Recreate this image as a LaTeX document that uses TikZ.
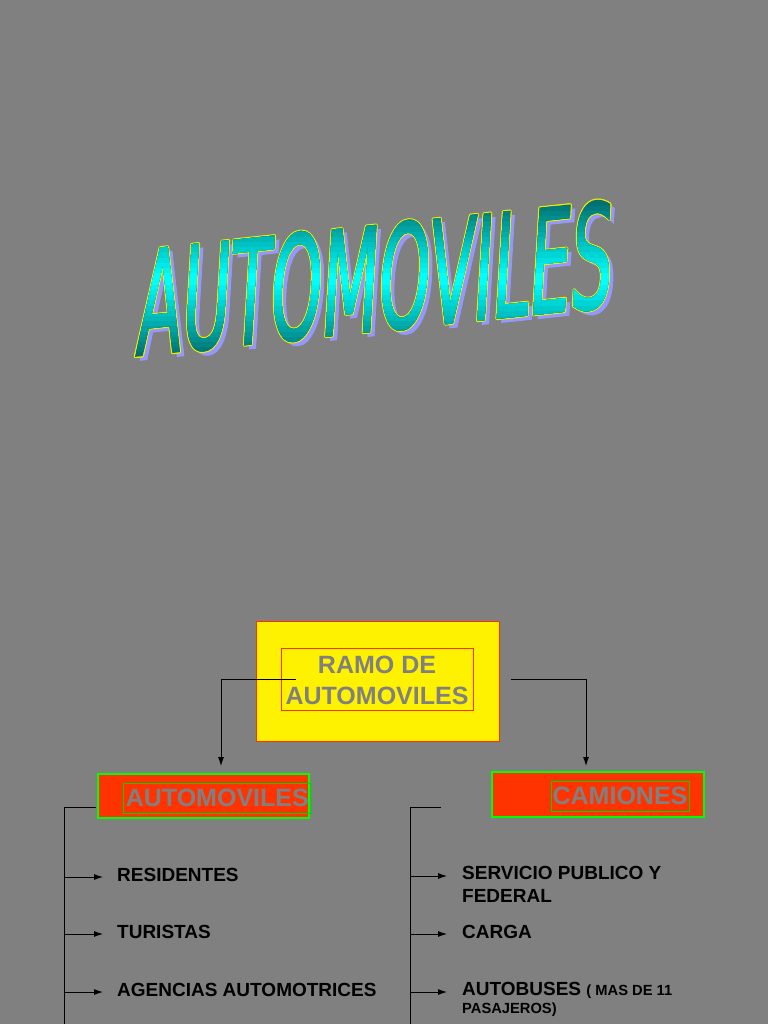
\documentclass[tikz,border=0pt]{standalone}
\usepackage{fontspec}
\setmainfont{Liberation Sans}
\newfontfamily\titlefont[FakeBold=1.2]{DejaVu Sans}
\usetikzlibrary{arrows.meta}
\definecolor{bg}{RGB}{128,128,128}
\definecolor{boxred}{RGB}{255,51,0}
\definecolor{boxgreen}{RGB}{0,255,0}
\definecolor{ingreen}{RGB}{0,215,0}
\definecolor{ramored}{RGB}{255,51,0}
\definecolor{txtgray}{RGB}{128,128,128}
\definecolor{tealdark}{RGB}{0,112,112}
\definecolor{cyanbright}{RGB}{0,255,255}
\definecolor{shadowblue}{RGB}{150,150,255}
\definecolor{outlineyellow}{RGB}{235,235,0}
\newcommand\wordart[3]{%
  \begin{scope}[shift={(135+#1,356+#2)}, cm={0.452,0.0474,0.06,1,(0,0)}]
    \node[transform shape, anchor=base west, inner sep=0, text=#3,
          font=\titlefont\fontsize{145}{145}\selectfont] at (0,0) {AUTOMOVILES};
  \end{scope}}
\tikzset{
  conn/.style={draw=black, line width=0.9pt},
  arr/.style={conn, -{Latex[length=9pt,width=6pt]}},
  item/.style={anchor=base west, inner sep=0, text=black,
               font=\bfseries\fontsize{19}{23}\selectfont},
  outerbox/.style={draw=boxgreen, line width=1.5pt, fill=boxred, inner sep=0},
  innerbox/.style={draw=ingreen, line width=0.8pt, inner sep=0, text=txtgray,
                   font=\bfseries\fontsize{25}{30}\selectfont},
}
\begin{document}
\begin{tikzpicture}[x=1pt,y=-1pt]
\useasboundingbox (0,0) rectangle (768,1024);
\fill[bg] (0,0) rectangle (768,1024);

% ---- Title (WordArt) ----
\wordart{4.5}{4}{shadowblue}
\foreach \dx/\dy in {1.3/0,-1.3/0,0/1.3,0/-1.3,0.9/0.9,-0.9/0.9,0.9/-0.9,-0.9/-0.9}{%
  \wordart{\dx}{\dy}{outlineyellow}}
\wordart{0}{0}{tealdark}
\foreach \k in {1,...,14}{%
  \pgfmathsetmacro\hh{78*(1-\k/15)}
  \pgfmathtruncatemacro\pc{100*\k/14}
  \begin{scope}
    \clip (100,279-\hh) rectangle (660,279+\hh);
    \colorlet{bandc}{cyanbright!\pc!tealdark}
    \wordart{0}{0}{bandc}
  \end{scope}
}

% ---- Top box ----
\node[draw=ramored, line width=0.8pt, fill=yellow, minimum width=243pt,
      minimum height=120pt, inner sep=0] (ramo) at (377.5,681) {};
\node[draw=ramored, line width=0.7pt, minimum width=192pt, minimum height=62pt,
      inner sep=0] (ramoin) at (377,679) {};
\node[text=txtgray, font=\bfseries\fontsize{25}{31}\selectfont, align=center,
      inner sep=0] (ramotxt) at (377,680) {RAMO DE\\AUTOMOVILES};

% ---- Second level boxes ----
\node[outerbox, minimum width=211pt, minimum height=44pt] (autobox) at (203.5,796) {};
\node[innerbox, minimum width=188pt, minimum height=30pt] (autotxt) at (217.3,798) {AUTOMOVILES};
\node[outerbox, minimum width=212pt, minimum height=45pt] (cambox) at (598,794.5) {};
\node[innerbox, minimum width=138pt, minimum height=30pt] (camtxt) at (620,796) {CAMIONES};

% ---- Connectors from top box ----
\coordinate (ls) at (296,679);
\coordinate (la) at (221,766);
\draw[arr] (ls) -| (la);
\coordinate (rs) at (511,679);
\coordinate (ra) at (586,766);
\draw[arr] (rs) -| (ra);

% ---- Left list ----
\coordinate (lb0) at (96,807);
\coordinate (lb1) at (64,807);
\coordinate (lbend) at (64,1024);
\draw[conn] (lb0) -- (lb1) -- (lbend);
\coordinate (l1s) at (64,877);  \coordinate (l1e) at (103,877);
\coordinate (l2s) at (64,934);  \coordinate (l2e) at (103,934);
\coordinate (l3s) at (64,992);  \coordinate (l3e) at (103,992);
\draw[arr] (l1s) -- (l1e);
\draw[arr] (l2s) -- (l2e);
\draw[arr] (l3s) -- (l3e);
\node[item] (res) at (117,881) {RESIDENTES};
\node[item] (tur) at (117,938) {TURISTAS};
\node[item] (age) at (117,996) {AGENCIAS AUTOMOTRICES};

% ---- Right list ----
\coordinate (rb0) at (441,807);
\coordinate (rb1) at (410,807);
\coordinate (rbend) at (410,1024);
\draw[conn] (rb0) -- (rb1) -- (rbend);
\coordinate (r1s) at (410,876);  \coordinate (r1e) at (447,876);
\coordinate (r2s) at (410,934);  \coordinate (r2e) at (447,934);
\coordinate (r3s) at (410,992);  \coordinate (r3e) at (447,992);
\draw[arr] (r1s) -- (r1e);
\draw[arr] (r2s) -- (r2e);
\draw[arr] (r3s) -- (r3e);
\node[item, anchor=north west, align=left] (serv) at (462,866.4) {SERVICIO PUBLICO Y\\FEDERAL};
\node[item] (carga) at (462,938) {CARGA};
\node[item, anchor=north west, align=left, font=\bfseries\fontsize{19}{18}\selectfont] (bus) at (462,982.4)
  {AUTOBUSES {\fontsize{14.7}{18}\selectfont ( MAS DE 11}\\{\fontsize{14.7}{18}\selectfont PASAJEROS)}};
\end{tikzpicture}
\end{document}
